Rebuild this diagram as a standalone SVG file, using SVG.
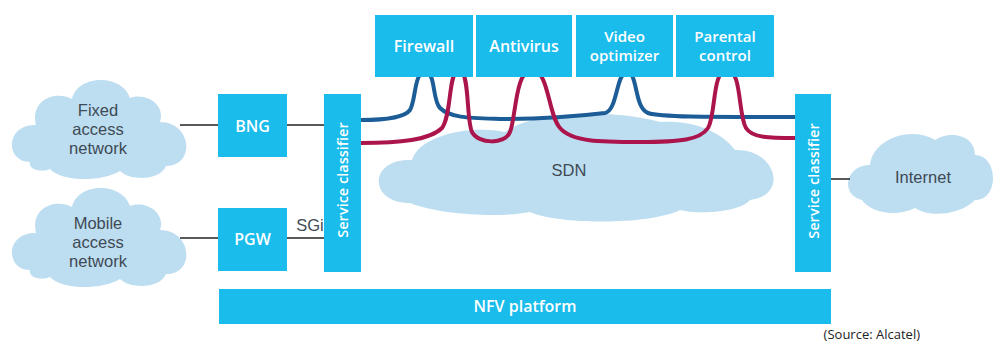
<svg xmlns="http://www.w3.org/2000/svg" width="995" height="343" viewBox="0 0 995 343">
<defs>
<style>
.box{fill:#1ABCEC}
.cloud{fill:#BDDDF1}
.bt{font-family:"Open Sans","DejaVu Sans",sans-serif;font-weight:600;font-size:16px;fill:#fff;text-anchor:middle;dominant-baseline:central}
.bt2{font-size:15px}
.ct{font-family:"Liberation Sans",Arial,sans-serif;font-weight:400;font-size:16.5px;fill:#3E4A54;text-anchor:middle;dominant-baseline:central}
.ln{stroke:#222;stroke-width:1.5;fill:none}
.blue{stroke:#1C5D98;stroke-width:4;fill:none;stroke-linecap:round}
.red{stroke:#AB154C;stroke-width:4;fill:none;stroke-linecap:round}
</style>
</defs>
<rect width="995" height="343" fill="#fff"/>

<g id="fixed-access-network">
<path class="cloud" d="M30,162 C5,162 5,124 36,125 C30,100 55,90 72,99 C78,74 122,74 130,98 C146,92 166,105 160,122 C192,122 196,166 166,166 C160,181 130,181 120,171 C100,183 60,181 50,169 C40,173 28,169 30,162 Z"/>
<text class="ct" x="98" y="110">Fixed</text>
<text class="ct" x="98" y="129">access</text>
<text class="ct" x="98" y="148">network</text>
</g>

<g id="mobile-access-network">
<path class="cloud" transform="translate(0,108)" d="M30,162 C5,162 5,124 36,125 C30,100 55,90 72,99 C78,74 122,74 130,98 C146,92 166,105 160,122 C192,122 196,166 166,166 C160,181 130,181 120,171 C100,183 60,181 50,169 C40,173 28,169 30,162 Z"/>
<text class="ct" x="98" y="223">Mobile</text>
<text class="ct" x="98" y="242">access</text>
<text class="ct" x="98" y="261">network</text>
</g>

<g id="sdn">
<path class="cloud" d="M410,203 C368,203 368,158 412,160 C420,135 470,125 505,132 C530,112 610,108 660,122 C690,120 720,130 735,150 C775,148 790,195 750,200 C740,212 700,215 680,210 C650,225 560,225 530,212 C500,218 440,215 410,203 Z"/>
<text class="ct" x="569" y="170">SDN</text>
</g>

<g id="internet">
<path class="cloud" d="M862,200 C840,195 845,165 870,165 C872,140 910,125 935,140 C950,130 975,135 975,155 C998,155 1000,200 975,200 C960,215 930,218 915,208 C895,218 870,212 862,200 Z"/>
<text class="ct" x="923" y="177">Internet</text>
</g>

<g id="connectors">
<line class="ln" x1="180" y1="125" x2="218" y2="125"/>
<line class="ln" x1="287" y1="125" x2="324" y2="125"/>
<line class="ln" x1="180" y1="238" x2="218" y2="238"/>
<line class="ln" x1="287" y1="238" x2="324" y2="238"/>
<line class="ln" x1="831" y1="179" x2="850" y2="179"/>
<path class="blue" d="M361,120 C390,120 405,117 410,110 C416,100 414,72 425,72 C436,72 432,100 440,108 C450,118 470,118 500,119 C540,119 580,116 605,113 C618,110 616,72 627,72 C638,72 634,108 648,113 C660,117 700,117 795,117"/>
<path class="red" d="M361,143 C400,143 430,140 442,128 C452,115 448,70 459,70 C470,70 466,120 472,132 C478,144 505,145 510,132 C516,118 515,70 532,70 C549,70 548,115 560,128 C572,142 600,142 640,142 C680,142 700,140 708,128 C716,115 712,70 727,70 C742,70 738,115 746,128 C752,138 770,138 795,138"/>
<text class="ct" x="310" y="225">SGi</text>
</g>

<g id="firewall"><rect class="box" x="375" y="15" width="98" height="62"/><text class="bt" x="424" y="46">Firewall</text></g>
<g id="antivirus"><rect class="box" x="476" y="15" width="96" height="62"/><text class="bt" x="524" y="46">Antivirus</text></g>
<g id="video-optimizer"><rect class="box" x="576" y="15" width="97" height="62"/><text class="bt bt2" x="624.5" y="36">Video</text><text class="bt bt2" x="624.5" y="55">optimizer</text></g>
<g id="parental-control"><rect class="box" x="676" y="15" width="98" height="62"/><text class="bt bt2" x="725" y="36">Parental</text><text class="bt bt2" x="725" y="55">control</text></g>

<g id="bng"><rect class="box" x="218" y="94" width="69" height="63"/><text class="bt" x="252.5" y="126">BNG</text></g>
<g id="pgw"><rect class="box" x="218" y="208" width="69" height="63"/><text class="bt" x="252.5" y="239">PGW</text></g>

<g id="service-classifier-left"><rect class="box" x="324" y="94" width="37" height="178"/><text class="bt" transform="translate(342.5,180) rotate(-90)" x="0" y="0" style="font-size:14.5px">Service classifier</text></g>
<g id="service-classifier-right"><rect class="box" x="795" y="94" width="36" height="178"/><text class="bt" transform="translate(813,181) rotate(-90)" x="0" y="0" style="font-size:14.5px">Service classifier</text></g>

<g id="nfv-platform"><rect class="box" x="219" y="289" width="612" height="35"/><text class="bt" x="525" y="306">NFV platform</text></g>

<text x="920" y="339" style="font-family:'Open Sans','Liberation Sans',sans-serif;font-size:13px;fill:#222;text-anchor:end">(Source: Alcatel)</text>
</svg>
